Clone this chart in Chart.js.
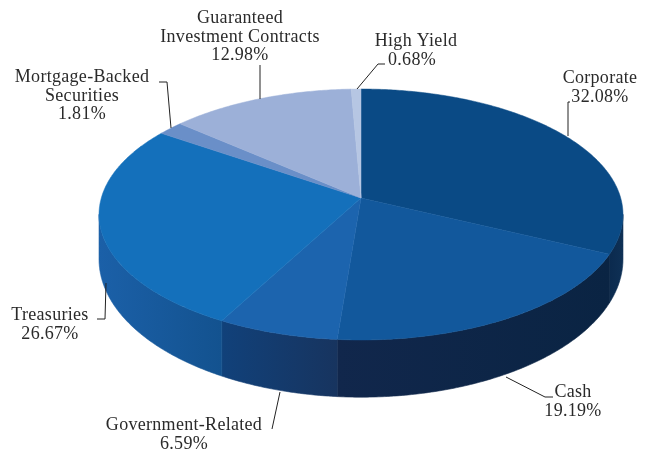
<!DOCTYPE html>
<html lang="en">
<head>
  <meta charset="UTF-8">
  <title>Portfolio Allocation</title>
  <script src="https://cdn.jsdelivr.net/npm/chart.js"></script>
  <style>
    body { margin: 0; background: #fff; }
    canvas { display: block; }
  </style>
</head>
<body>
  <canvas id="allocationPie" width="649" height="450"></canvas>

  <script>
    const categories = [
      ['Corporate'],
      ['Cash'],
      ['Government-Related'],
      ['Treasuries'],
      ['Mortgage-Backed', 'Securities'],
      ['Guaranteed', 'Investment Contracts'],
      ['High Yield']
    ];
    const percentages = [32.08, 19.19, 6.59, 26.67, 1.81, 12.98, 0.68];

    const topColors = ['#0a4a85', '#12589c', '#1c64ae', '#1470bb', '#6a8fc8', '#9cb0d8', '#b6c6e3'];
    // wall shading per slice, left edge to right edge
    const wallColors = [
      ['#0b2a4e', '#0e3055'],
      ['#11274c', '#0a2443'],
      ['#11417a', '#17345f'],
      ['#1b60a8', '#13528f'],
      ['#1b60a8', '#1b60a8'],
      ['#1b60a8', '#1b60a8'],
      ['#1b60a8', '#1b60a8']
    ];

    // label placement: centre x and first baseline, then the leader line points
    const labelSpots = [
      { x: 600, y: 83, line: [[570, 102], [568, 102], [568, 136]] },
      { x: 573, y: 397, line: [[553, 397], [545, 397], [506, 377]] },
      { x: 184, y: 430, line: [[272, 429], [280, 392]] },
      { x: 50, y: 320, line: [[97, 319], [105, 319], [106, 283]] },
      { x: 82, y: 82, line: [[159, 82], [167, 82], [171, 128]] },
      { x: 240, y: 23, line: [[260, 65], [260, 99]] },
      { x: 416, y: 46, pctX: 412, line: [[385, 64], [378, 64], [357, 89]] }
    ];

    // disc geometry, seen from above with a little perspective
    const apexX = 361, apexY = 198;
    const spreadX = 259.7, spreadY = 123.3, tilt = 0.1315;
    const wallDrop = 43, wallSpreadX = 1, wallSpreadY = 1.1;
    const wallFrom = 97.5 * Math.PI / 180, wallTo = 262.5 * Math.PI / 180;

    function rimPoint(theta, isBottom) {
      const u = Math.sin(theta), v = -Math.cos(theta);
      const s = 1 / (1 - tilt * v);
      if (isBottom) {
        return [apexX + spreadX * wallSpreadX * u * s, apexY + wallDrop + spreadY * wallSpreadY * v * s];
      }
      return [apexX + spreadX * u * s, apexY + spreadY * v * s];
    }

    function traceRim(ctx, from, to, isBottom) {
      const steps = Math.max(2, Math.ceil(Math.abs(to - from) / 0.01));
      for (let i = 0; i <= steps; i++) {
        const p = rimPoint(from + (to - from) * i / steps, isBottom);
        ctx.lineTo(p[0], p[1]);
      }
    }

    // ArcElement that projects its angles on to the tilted disc
    class TiltedArc extends Chart.ArcElement {
      draw(ctx) {
        const { startAngle, endAngle } = this.getProps(['startAngle', 'endAngle']);
        const from = startAngle + Math.PI / 2;
        const to = endAngle + Math.PI / 2;
        const index = this.$context.dataIndex;

        const wallA = Math.max(from, wallFrom);
        const wallB = Math.min(to, wallTo);
        if (wallB > wallA) {
          const xa = rimPoint(wallA)[0], xb = rimPoint(wallB)[0];
          const grad = ctx.createLinearGradient(Math.min(xa, xb), 0, Math.max(xa, xb), 0);
          grad.addColorStop(0, wallColors[index][0]);
          grad.addColorStop(1, wallColors[index][1]);
          ctx.beginPath();
          traceRim(ctx, wallA, wallB, false);
          traceRim(ctx, wallB, wallA, true);
          ctx.closePath();
          ctx.fillStyle = grad;
          ctx.strokeStyle = grad;
          ctx.lineWidth = 0.6;
          ctx.fill();
          ctx.stroke();
        }

        ctx.beginPath();
        ctx.moveTo(apexX, apexY);
        traceRim(ctx, from, to, false);
        ctx.closePath();
        ctx.fillStyle = this.options.backgroundColor;
        ctx.strokeStyle = this.options.backgroundColor;
        ctx.lineWidth = 0.5;
        ctx.fill();
        ctx.stroke();
      }
    }
    TiltedArc.id = 'tiltedArc';
    TiltedArc.defaults = Chart.ArcElement.defaults;

    class TiltedPieController extends Chart.PieController {}
    TiltedPieController.id = 'tiltedPie';
    TiltedPieController.defaults = { dataElementType: 'tiltedArc' };

    Chart.register(TiltedArc, TiltedPieController);

    // category names, percentages and leader lines
    const sliceLabels = {
      id: 'sliceLabels',
      afterDraw(chart) {
        const ctx = chart.ctx;
        ctx.save();
        ctx.strokeStyle = '#222';
        ctx.lineWidth = 1;
        labelSpots.forEach(function (spot) {
          ctx.beginPath();
          spot.line.forEach(function (p, k) {
            if (k === 0) ctx.moveTo(p[0], p[1]);
            else ctx.lineTo(p[0], p[1]);
          });
          ctx.stroke();
        });

        ctx.font = '18px "Liberation Serif"';
        ctx.letterSpacing = '0.3px';
        ctx.fillStyle = '#2a2a2a';
        ctx.textAlign = 'center';
        ctx.textBaseline = 'alphabetic';
        labelSpots.forEach(function (spot, i) {
          let y = spot.y;
          categories[i].forEach(function (text) {
            ctx.fillText(text, spot.x, y);
            y += 18.5;
          });
          ctx.fillText(percentages[i].toFixed(2) + '%', spot.pctX || spot.x, y);
        });
        ctx.restore();
      }
    };

    new Chart(document.getElementById('allocationPie'), {
      type: 'tiltedPie',
      data: {
        labels: categories,
        datasets: [{
          data: percentages,
          backgroundColor: topColors,
          borderWidth: 0
        }]
      },
      options: {
        responsive: false,
        animation: false,
        plugins: { legend: { display: false }, tooltip: { enabled: false } }
      },
      plugins: [sliceLabels]
    });
  </script>
</body>
</html>
